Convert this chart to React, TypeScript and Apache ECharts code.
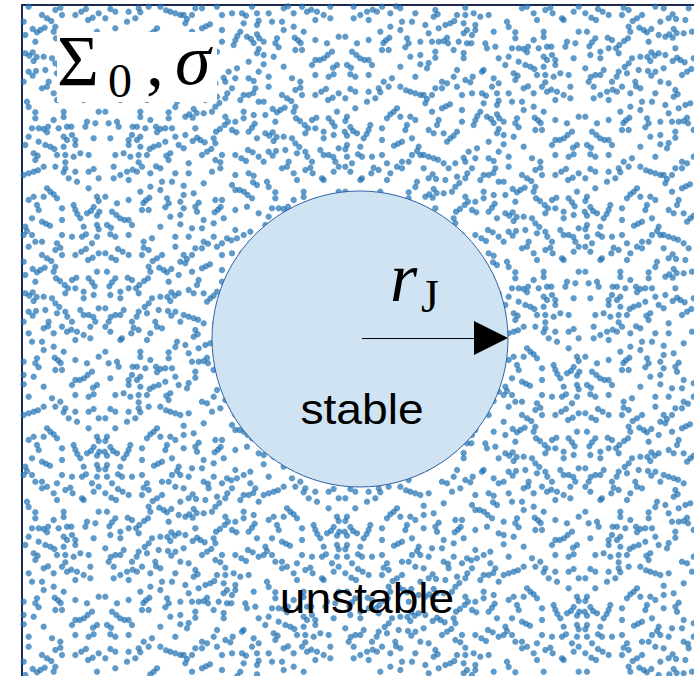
import React, { useEffect, useRef } from "react";
import * as echarts from "echarts";

// Dot positions read from four 80x80 px patches of the reference (in 3x zoom pixels)
const patchA: number[][] = [
  [20,5],[100,15],[115,8],[60,30],[75,40],[88,48],[120,30],[160,30],[178,20],[192,12],[198,45],[212,38],[230,25],[5,50],[55,75],[68,68],[45,82],[32,72],[100,65],[95,80],[102,100],[114,108],[150,105],[163,98],[128,120],[138,130],[200,100],[210,112],[218,124],[225,80],[10,90],[40,110],[10,145],[22,152],[32,142],[44,156],[35,168],[65,155],[90,160],[100,175],[112,186],[130,145],[160,130],[185,140],[185,160],[215,150],[20,200],[32,212],[42,198],[70,195],[105,205],[130,200],[136,215],[175,195],[185,210],[200,210],[214,216],[230,190],[5,230],[80,230],[150,230],[220,230]
];
const patchB: number[][] = [
  [75,5],[130,15],[145,8],[152,25],[215,20],[230,5],[95,25],[105,45],[15,50],[20,66],[185,45],[40,82],[40,100],[125,80],[125,96],[95,105],[195,110],[220,115],[30,130],[50,130],[65,132],[78,125],[75,142],[110,130],[135,125],[148,125],[190,125],[20,155],[125,155],[135,165],[150,150],[160,165],[215,160],[50,170],[70,180],[85,185],[97,192],[125,185],[160,180],[35,205],[47,212],[105,210],[130,210],[155,215],[175,205],[200,210],[40,225],[130,232],[180,40],[60,10],[10,180],[230,80]
];
const patchC: number[][] = [
  [20,25],[65,10],[78,4],[120,5],[135,20],[148,14],[165,20],[185,30],[205,5],[205,40],[30,50],[60,50],[65,75],[95,25],[95,65],[125,80],[160,45],[5,110],[45,100],[40,115],[50,127],[98,98],[108,106],[116,114],[160,105],[230,95],[195,115],[100,135],[120,135],[210,140],[35,155],[5,150],[5,178],[160,165],[173,165],[186,160],[197,150],[150,180],[225,180],[213,188],[65,185],[20,215],[90,220],[160,210],[200,215],[215,208],[115,230]
];
const patchD: number[][] = [
  [5,30],[20,25],[35,20],[48,16],[65,5],[100,5],[130,10],[125,22],[160,20],[140,40],[165,50],[200,20],[215,12],[230,40],[75,70],[85,80],[20,105],[35,95],[65,95],[95,88],[105,100],[200,70],[225,95],[230,108],[45,120],[50,135],[120,130],[155,120],[160,134],[166,147],[175,160],[195,145],[207,138],[215,126],[225,152],[232,140],[30,160],[60,170],[72,176],[84,182],[120,165],[10,185],[15,198],[185,185],[225,180],[230,193],[5,210],[30,210],[120,210],[150,215],[180,215],[192,208],[225,215],[40,230],[60,230],[105,235],[210,235]
];
const patches = [patchA, patchB, patchC, patchD];

// Domain (px-like units inside the frame)
const xMax = 672;
const yMax = 671;
const patchSize = 80;

// Jeans circle: centre and radius
const circleCenter = [338, 334];
const circleRadius = 148;
const arrowFrom = [340, 333];
const arrowTo = [469, 333];

const labelStable = "stable";
const labelUnstable = "unstable";

function buildDots(): number[][] {
  const out: number[][] = [];
  const cols = Math.ceil(xMax / patchSize);
  const rows = Math.ceil(yMax / patchSize);
  for (let j = 0; j < rows; j++) {
    for (let i = 0; i < cols; i++) {
      const p = patches[(i * 3 + j * 5 + ((i + j) >> 1)) % 4];
      const m = (i * 7 + j * 3) % 3;
      for (const [zx, zy] of p) {
        let x = zx / 3;
        let y = zy / 3;
        if (m === 1) x = patchSize - x;
        if (m === 2) y = patchSize - y;
        out.push([i * patchSize + x, j * patchSize + y]);
      }
    }
  }
  return out;
}

export default function App() {
  const ref = useRef<HTMLDivElement>(null);
  useEffect(() => {
    if (!ref.current) return;
    const chart = echarts.init(ref.current, null, { renderer: "svg" });
    const frameColor = "#1b2a4e";
    const T = (x: number, y: number, text: string, font: string, extra: any = {}) => ({
      type: "text", zlevel: 2, z: 101, x, y, ...extra,
      style: { text, font, fill: "#000", textAlign: extra.align || "left", textVerticalAlign: "middle" },
    });
    chart.setOption({
      animation: false,
      grid: { left: 22, top: 5, right: 0, bottom: 0 },
      xAxis: {
        type: "value", min: 0, max: xMax, position: "top",
        axisLine: { show: true, onZero: false, lineStyle: { color: frameColor, width: 2 } },
        axisTick: { show: false }, axisLabel: { show: false }, splitLine: { show: false },
      },
      yAxis: {
        type: "value", min: 0, max: yMax, inverse: true,
        axisLine: { show: true, onZero: false, lineStyle: { color: frameColor, width: 2 } },
        axisTick: { show: false }, axisLabel: { show: false }, splitLine: { show: false },
      },
      series: [
        {
          type: "scatter", z: 2, silent: true, progressive: 0, large: false,
          symbolSize: 6.3,
          itemStyle: { color: "rgba(28,112,178,0.88)" },
          data: buildDots(),
        },
        {
          type: "scatter", z: 3, zlevel: 1, silent: true,
          symbolSize: circleRadius * 2,
          itemStyle: { color: "#cfe3f2", borderColor: "#2d62a8", borderWidth: 1, opacity: 1 },
          data: [circleCenter],
        },
        {
          type: "lines", coordinateSystem: "cartesian2d", z: 4, zlevel: 1, silent: true,
          symbol: ["none", "triangle"], symbolSize: [22, 34],
          lineStyle: { color: "#000", width: 1.2, opacity: 1 },
          itemStyle: { color: "#000" },
          data: [{ coords: [arrowFrom, arrowTo] }],
        },
      ],
      graphic: [
        { type: "rect", zlevel: 2, z: 100, shape: { x: 57, y: 32, width: 160, height: 70 }, style: { fill: "#fff" } },
        T(57, 61, "Σ", "72px 'Liberation Serif'"),
        T(108, 80, "0", "48px 'Liberation Serif'"),
        T(146, 61, ",", "72px 'Liberation Serif'"),
        T(175, 60, "σ", "italic 72px 'Liberation Serif'"),
        T(390, 277, "r", "italic 70px 'Liberation Serif'"),
        T(421, 296, "J", "46px 'Liberation Serif'"),
        T(362, 409, labelStable, "42px 'Liberation Sans'", { scaleX: 1.1, align: "center" }),
        T(367, 598, labelUnstable, "42px 'Liberation Sans'", { scaleX: 1.1, align: "center" }),
      ],
    });
    return () => chart.dispose();
  }, []);
  return <div ref={ref} style={{ position: "absolute", left: 0, top: 0, width: 694, height: 676 }} />;
}
